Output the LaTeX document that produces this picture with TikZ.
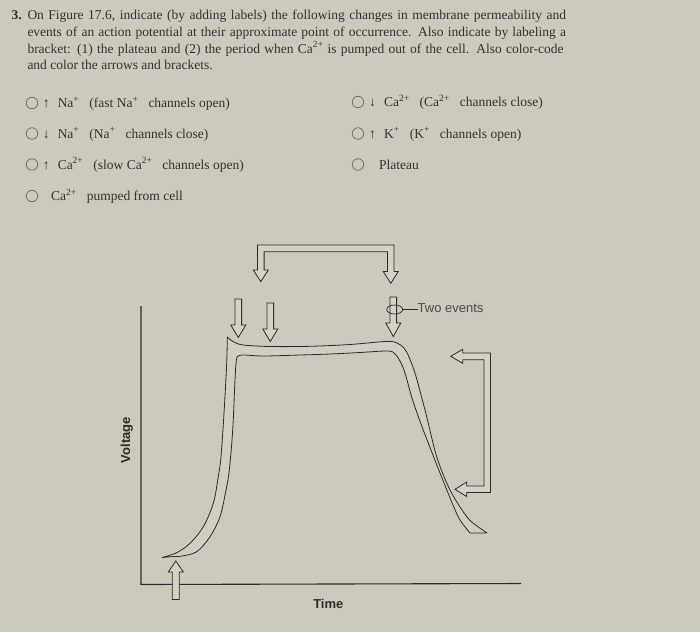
\documentclass[tikz,border=0pt]{standalone}
\usepackage{fontspec}
\setmainfont{Liberation Serif}
\newfontfamily\sansf{Liberation Sans}
\usetikzlibrary{shapes.geometric}
\definecolor{paper}{RGB}{205,201,188}
\definecolor{ink}{RGB}{45,42,40}
\definecolor{txt}{RGB}{52,50,48}
\definecolor{hollow}{RGB}{214,209,199}
\newcommand\supx[1]{\textsuperscript{#1}}
\newcommand\supw[1]{\textsuperscript{#1}\hspace{0.5em}}
\newcommand\arw[1]{#1\hspace{0.35em}}
\begin{document}
\begin{tikzpicture}[x=1pt,y=-1pt,
  outline/.style={draw=ink, line width=0.8pt, fill=hollow, line join=miter},
  axisline/.style={draw=ink, line width=1.1pt},
  para/.style={anchor=base west, inner sep=0pt, font=\fontsize{13.5}{16}\selectfont, text=txt},
  opt/.style={anchor=base west, inner sep=0pt, font=\fontsize{13.5}{16}\selectfont, text=txt},
  radio/.style={circle, draw=ink!70, line width=0.7pt, minimum size=11.5pt, inner sep=0pt},
  lbl/.style={font=\sansf\bfseries\fontsize{13}{15}\selectfont, text=ink, inner sep=0pt}
]
\fill[paper] (0,0) rectangle (700,632);
\useasboundingbox (0,0) rectangle (700,632);

% paragraph
\node[para, font=\bfseries\fontsize{13.5}{16}\selectfont] (num) at (11.5,19) {3.};
\node[para] (l1) at (27.3,19) {\makebox[538.5pt][s]{On Figure 17.6, indicate (by adding labels) the following changes in membrane permeability and}};
\node[para] (l2) at (27.3,36) {\makebox[538.5pt][s]{events of an action potential at their approximate point of occurrence. Also indicate by labeling a}};
\node[para] (l3) at (27.3,53) {\makebox[536pt][s]{bracket: (1) the plateau and (2) the period when Ca\supx{2+} is pumped out of the cell. Also color-code}};
\node[para] (l4) at (27.3,69.5) {and color the arrows and brackets.};

% options
\node[radio] (r1) at (32,103) {};
\node[radio] (r2) at (32,133.5) {};
\node[radio] (r3) at (32,164.5) {};
\node[radio] (r4) at (32,196) {};
\node[radio] (r5) at (358,102) {};
\node[radio] (r6) at (358,133.5) {};
\node[radio] (r7) at (358,164.5) {};
\node[opt] (o1) at (42.7,107.5) {\arw{↑} Na\supw{+} (fast Na\supw{+} channels open)};
\node[opt] (o2) at (42.7,138) {\arw{↓} Na\supw{+} (Na\supw{+} channels close)};
\node[opt] (o3) at (42.7,169) {\arw{↑} Ca\supw{2+} (slow Ca\supw{2+} channels open)};
\node[opt] (o4) at (51,200.5) {Ca\supw{2+} pumped from cell};
\node[opt] (o5) at (369,106.5) {\arw{↓} Ca\supw{2+} (Ca\supw{2+} channels close)};
\node[opt] (o6) at (369,138) {\arw{↑} K\supw{+} (K\supw{+} channels open)};
\node[opt] (o7) at (379,169) {Plateau};

% axes
\draw[axisline] (141,306) -- (141,584.5) -- (521,583.5);

% action potential band
\draw[draw=ink, line width=0.8pt, fill=hollow!60!paper, line join=round]
  plot[smooth, tension=0.55] coordinates {(162,557.5) (176.7,552.7) (190,543.3) (203.3,526.7) (213.3,503.3) (218.3,476.7) (221,456.7) (224,413.3) (226.7,363.3) (227.3,337)}
  -- plot[smooth, tension=0.55] coordinates {(227.3,337) (233.3,341.7) (243.3,345) (270,346.5) (310,346.3) (350,344.5) (385,341.5) (396,342.5) (404,348) (409,357) (415,373) (421,395) (426.7,416.7) (436.7,456.7) (450,490) (466.7,516.7) (477,526) (487,533)}
  -- (470,533)
  -- plot[smooth, tension=0.55] coordinates {(470,533) (460,520) (453,505) (442,478) (431,450) (421,424) (412,398) (405,373) (400,361) (395,354) (388,351) (360,352.5) (330,354) (300,355) (263,356) (245,355) (239.5,355.5) (236.5,359) (235,380) (232.7,430) (229.3,470) (226,490) (220,516.7) (210,536.7) (196.7,551.7) (182,556) (174,556.5)}
  -- cycle;

% down arrows
\foreach \cx/\yt/\yb/\yp [count=\i] in {238.3/299/325/337.5, 270.3/303/329/341.5, 393.3/297/323/336.5}{
  \draw[outline] (\cx-3.3,\yt) -- (\cx+3.3,\yt) -- (\cx+3.3,\yb) -- (\cx+7.5,\yb) -- (\cx,\yp) -- (\cx-7.5,\yb) -- (\cx-3.3,\yb) -- cycle;
}
% up arrow
\draw[outline] (172.3,599.5) -- (179.3,599.5) -- (179.3,572) -- (183.3,572) -- (175.8,561) -- (168.3,572) -- (172.3,572) -- cycle;

% top bracket
\draw[outline] (260.8,281.7) -- (253.3,270) -- (257.5,270) -- (257.5,245) -- (394,245) -- (394,271.5) -- (398.3,271.5) -- (390.8,283.3) -- (383.3,271.5) -- (387.4,271.5) -- (387.4,251.7) -- (264.1,251.7) -- (264.1,270) -- (268.3,270) -- cycle;

% right bracket
\draw[outline] (450.7,356.3) -- (462.7,349.3) -- (462.7,353) -- (490.5,353) -- (490.5,492.5) -- (466.7,492.5) -- (466.7,496.5) -- (455,489.3) -- (466.7,482) -- (466.7,486) -- (484,486) -- (484,359.7) -- (462.7,359.7) -- (462.7,363.3) -- cycle;

% two events
\node[ellipse, draw=ink, line width=0.7pt, minimum width=16pt, minimum height=9pt, inner sep=0pt] (ev) at (394.7,309.5) {};
\node[font=\sansf\fontsize{13}{15}\selectfont, text=ink!85, anchor=west, inner sep=0pt] (two) at (417.5,308) {Two events};
\draw[ink, line width=0.7pt] (ev.east) -- (ev.east -| two.west);

% axis labels
\node[lbl, rotate=90] (volt) at (126.7,440) {Voltage};
\node[lbl] (time) at (328.3,604) {Time};
\end{tikzpicture}
\end{document}
